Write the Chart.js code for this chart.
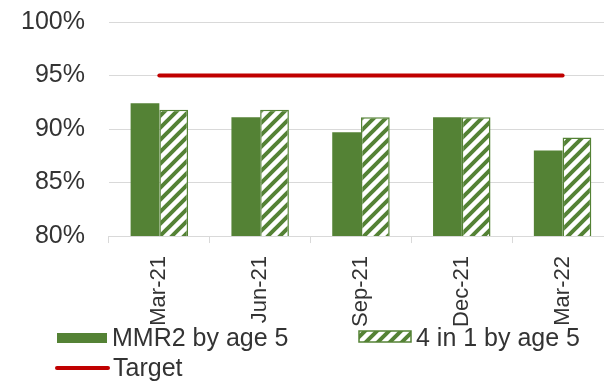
<!DOCTYPE html>
<html>
<head>
<meta charset="utf-8">
<script src="https://cdn.jsdelivr.net/npm/chart.js@4"></script>
<style>
  html, body { margin: 0; padding: 0; background: #fff; overflow: hidden; }
  #wrap { width: 615px; height: 385px; }
</style>
</head>
<body>
<div id="wrap"><canvas id="chart"></canvas></div>
<script>
// quarterly uptake, % of children by age 5
const quarters = ["Mar-21", "Jun-21", "Sep-21", "Dec-21", "Mar-22"];
const mmr2 = [92.4, 91.1, 89.7, 91.1, 88.0];
const fourInOne = [91.8, 91.8, 91.1, 91.1, 89.2];
const target = [95, 95, 95, 95, 95];
const seriesNames = ["MMR2 by age 5", "4 in 1 by age 5", "Target"];

const green = "#548235";
const red = "#c00000";
const grid = "#d9d9d9";
const textColor = "#333333";
const fontFamily = "'Liberation Sans', Arial, sans-serif";

function hatch(color) {
  const c = document.createElement("canvas");
  c.width = 12; c.height = 12;
  const x = c.getContext("2d");
  x.fillStyle = "#fff";
  x.fillRect(0, 0, 12, 12);
  x.strokeStyle = color;
  x.lineWidth = 4;
  x.beginPath();
  x.moveTo(-3, 15); x.lineTo(15, -3);
  x.moveTo(-6, 6); x.lineTo(6, -6);
  x.moveTo(6, 18); x.lineTo(18, 6);
  x.stroke();
  return x.createPattern(c, "repeat");
}
const hatchFill = hatch(green);

// legend laid out like the original: two items on row 1, Target below
const legendBoxes = {
  id: "legendBoxes",
  afterDraw(chart) {
    const ctx = chart.ctx;
    const ds = chart.data.datasets;
    ctx.save();
    ctx.font = "25px " + fontFamily;
    ctx.fillStyle = textColor;
    ctx.textBaseline = "middle";
    ctx.textAlign = "left";

    // MMR2
    ctx.fillStyle = ds[0].backgroundColor;
    ctx.fillRect(57, 333, 50, 10);
    ctx.fillStyle = textColor;
    ctx.fillText(ds[0].label, 112, 339);

    // 4 in 1
    ctx.fillStyle = ds[1].backgroundColor;
    ctx.fillRect(359, 331, 52, 11);
    ctx.strokeStyle = ds[1].borderColor;
    ctx.lineWidth = 1.5;
    ctx.strokeRect(359, 331, 52, 11);
    ctx.fillStyle = textColor;
    ctx.fillText(ds[1].label, 416, 339);

    // Target
    ctx.strokeStyle = ds[2].borderColor;
    ctx.lineWidth = 4;
    ctx.lineCap = "round";
    ctx.beginPath();
    ctx.moveTo(57, 368);
    ctx.lineTo(108, 368);
    ctx.stroke();
    ctx.fillStyle = textColor;
    ctx.fillText(ds[2].label, 113, 369);
    ctx.restore();
  }
};

new Chart(document.getElementById("chart"), {
  type: "bar",
  data: {
    labels: quarters,
    datasets: [
      {
        label: seriesNames[0],
        data: mmr2,
        backgroundColor: green,
        borderWidth: 0,
        order: 1
      },
      {
        label: seriesNames[1],
        data: fourInOne,
        backgroundColor: hatchFill,
        borderColor: green,
        borderWidth: 1.5,
        order: 1
      },
      {
        type: "line",
        label: seriesNames[2],
        data: target,
        borderColor: red,
        borderWidth: 4,
        borderCapStyle: "round",
        pointRadius: 0,
        fill: false,
        order: 0
      }
    ]
  },
  plugins: [legendBoxes],
  options: {
    responsive: true,
    maintainAspectRatio: false,
    animation: false,
    layout: { padding: { top: 0, left: -3, right: 2, bottom: 45 } },
    datasets: {
      bar: { categoryPercentage: 0.57, barPercentage: 1 }
    },
    plugins: {
      legend: { display: false },
      tooltip: { enabled: false }
    },
    scales: {
      x: {
        grid: { drawOnChartArea: false, drawTicks: true, tickLength: 7, color: grid, offset: true },
        border: { color: grid, width: 1 },
        ticks: {
          color: textColor,
          font: { family: fontFamily, size: 22 },
          minRotation: 90,
          maxRotation: 90,
          padding: 13
        }
      },
      y: {
        min: 80,
        max: 100,
        grid: { color: grid, drawTicks: false },
        border: { display: false },
        // tick padding would otherwise push the plot down too
        afterFit: s => { s.paddingTop = 22; },
        ticks: {
          stepSize: 5,
          padding: 24,
          color: textColor,
          font: { family: fontFamily, size: 25 },
          callback: v => v + "%"
        }
      }
    }
  }
});
</script>
</body>
</html>
